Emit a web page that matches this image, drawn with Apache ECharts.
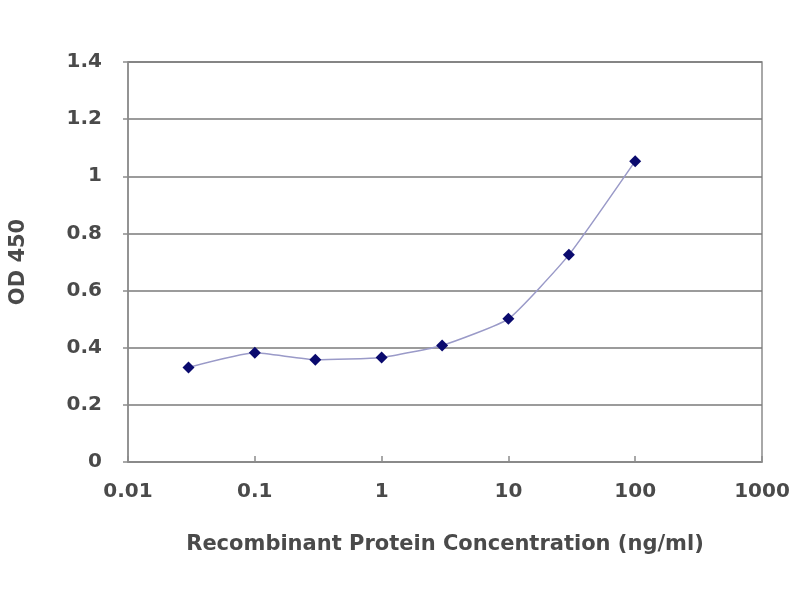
<!DOCTYPE html>
<html>
<head>
<meta charset="utf-8">
<title>OD 450</title>
<script src="https://cdn.jsdelivr.net/npm/echarts@6/dist/echarts.min.js"></script>
<style>
    html, body { margin: 0; padding: 0; background: #fff; }
    #main { width: 800px; height: 600px; }
</style>
</head>
<body>
<div id="main"></div>
<script>
// concentration (ng/ml) and measured OD
var concentrations = [0.03, 0.1, 0.3, 1, 3, 10, 30, 100];
var od450 = [0.331, 0.382, 0.358, 0.366, 0.408, 0.501, 0.725, 1.053];
var xTickLabels = ['0.01', '0.1', '1', '10', '100', '1000'];

var points = [];
for (var i = 0; i < concentrations.length; i++) {
    points.push([concentrations[i], od450[i]]);
}

var labelFont = {
    fontFamily: 'DejaVu Sans',
    fontWeight: 'bold',
    fontSize: 21,
    color: '#4a4a4a'
};

var chart = echarts.init(document.getElementById('main'));
var option = {
    backgroundColor: '#fff',
    animation: false,
    grid: {
        left: 128,
        right: 38,
        top: 62,
        bottom: 138,
        outerBoundsMode: 'none',
        show: true,
        borderColor: '#8c8c8c',
        borderWidth: 1.5
    },
    xAxis: {
        type: 'log',
        logBase: 10,
        min: 0.01,
        max: 1000,
        name: 'Recombinant Protein Concentration (ng/ml)',
        nameLocation: 'middle',
        nameGap: 72,
        nameTextStyle: labelFont,
        axisLine: { lineStyle: { color: '#8c8c8c', width: 1.5 } },
        axisTick: { inside: true, length: 6, lineStyle: { color: '#8c8c8c', width: 1.5 } },
        minorTick: { show: false },
        splitLine: { show: false },
        axisLabel: {
            margin: 20,
            fontFamily: 'DejaVu Sans',
            fontWeight: 'bold',
            fontSize: 20,
            color: '#4a4a4a',
            formatter: function (v) {
                var k = Math.round(Math.log(v) / Math.LN10) + 2;
                return xTickLabels[k] || '';
            }
        }
    },
    yAxis: {
        type: 'value',
        min: 0,
        max: 1.4,
        interval: 0.2,
        name: 'OD 450',
        nameLocation: 'middle',
        nameGap: 99,
        nameTextStyle: labelFont,
        axisLine: { show: true, lineStyle: { color: '#8c8c8c', width: 1.5 } },
        axisTick: { show: true, length: 5, lineStyle: { color: '#8c8c8c', width: 1.5 } },
        splitLine: { show: true, lineStyle: { color: '#7a7a7a', width: 1.5 } },
        axisLabel: {
            margin: 26,
            fontFamily: 'DejaVu Sans',
            fontWeight: 'bold',
            fontSize: 20,
            color: '#4a4a4a'
        }
    },
    series: [{
        type: 'line',
        data: points,
        smooth: 0.15,
        symbol: 'diamond',
        symbolSize: 12,
        lineStyle: { color: '#9a9ac8', width: 1.5 },
        itemStyle: { color: '#0a0a6e' }
    }]
};
chart.setOption(option);
</script>
</body>
</html>
